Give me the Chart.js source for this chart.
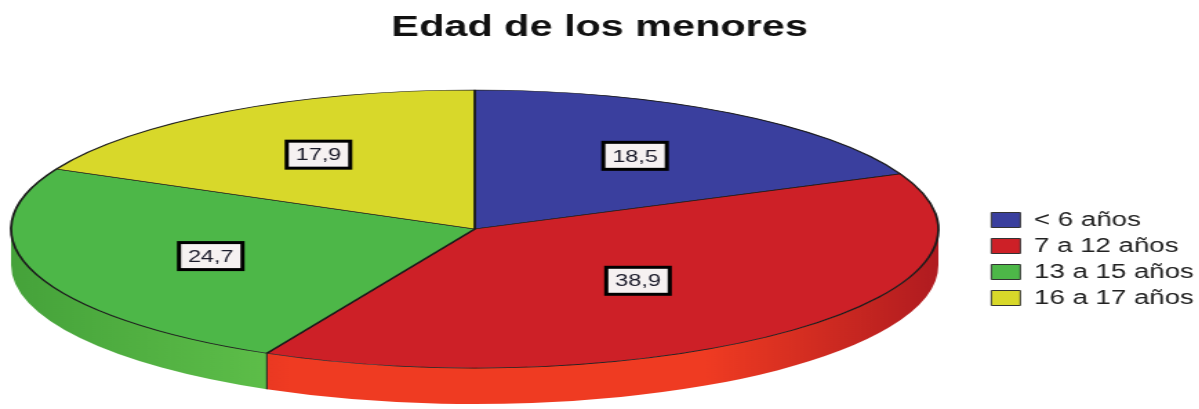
<!DOCTYPE html>
<html>
<head>
<meta charset="utf-8">
<title>Edad de los menores</title>
<script src="https://cdn.jsdelivr.net/npm/chart.js@4.4.1/dist/chart.umd.min.js"></script>
<style>
  html, body { margin: 0; padding: 0; background: #fff; overflow: hidden; }
  /* the source picture is stretched sideways, so is this one */
  #wrap { width: 869px; height: 409px; transform: scaleX(1.38); transform-origin: 0 0; }
</style>
</head>
<body>
<div id="wrap"><canvas id="chart" width="869" height="409"></canvas></div>
<script>
// Data
const categories = ['< 6 años', '7 a 12 años', '13 a 15 años', '16 a 17 años'];
const percentages = [18.5, 38.9, 24.7, 17.9];

// Styles
const topColors = ['#3a3f9e', '#cd2027', '#4db748', '#d8d82a'];
const sideColors = [
  ['#4a50b8', '#2e3280'],
  ['#ef3b22', '#b01b20'],
  ['#5fc04a', '#45a23a'],
  ['#e6e43a', '#b8b620']
];
const PIE = { cx: 344, cy: 229, rx: 336, ry: 139, depth: 36 };
const fmt = v => v.toFixed(1).replace('.', ',');

// draws the pie flattened into an ellipse with a side wall
const pie3d = {
  id: 'pie3d',
  beforeDatasetsDraw(chart) {
    const ctx = chart.ctx;
    const arcs = chart.getDatasetMeta(0).data;
    const ref = arcs[0];

    arcs.forEach((arc, i) => {
      const s = Math.max(arc.startAngle, 0);
      const e = Math.min(arc.endAngle, Math.PI);
      if (s >= e) return;
      const g = ctx.createLinearGradient(PIE.cx - PIE.rx, 0, PIE.cx + PIE.rx, 0);
      g.addColorStop(0, sideColors[i][1]);
      g.addColorStop(0.3, sideColors[i][0]);
      g.addColorStop(0.75, sideColors[i][0]);
      g.addColorStop(1, sideColors[i][1]);
      ctx.beginPath();
      ctx.ellipse(PIE.cx, PIE.cy, PIE.rx, PIE.ry, 0, s, e);
      ctx.ellipse(PIE.cx, PIE.cy + PIE.depth, PIE.rx, PIE.ry, 0, e, s, true);
      ctx.closePath();
      ctx.fillStyle = g;
      ctx.fill();
    });

    // edges between slices on the front wall
    ctx.save();
    ctx.strokeStyle = '#1a1a1a';
    ctx.lineWidth = 1;
    arcs.forEach(arc => {
      const a = arc.endAngle;
      if (a <= 0 || a >= Math.PI) return;
      const x = PIE.cx + PIE.rx * Math.cos(a);
      const y = PIE.cy + PIE.ry * Math.sin(a);
      ctx.beginPath();
      ctx.moveTo(x, y);
      ctx.lineTo(x, y + PIE.depth);
      ctx.stroke();
    });
    ctx.restore();

    ctx.save();
    ctx.translate(PIE.cx, PIE.cy);
    ctx.scale(PIE.rx / ref.outerRadius, PIE.ry / ref.outerRadius);
    ctx.translate(-ref.x, -ref.y);
  },
  afterDatasetsDraw(chart) {
    const ctx = chart.ctx;
    ctx.restore();

    const arcs = chart.getDatasetMeta(0).data;
    ctx.save();
    ctx.font = '17px "Liberation Sans", Arial, sans-serif';
    ctx.textAlign = 'center';
    ctx.textBaseline = 'middle';
    arcs.forEach((arc, i) => {
      // label sits on the centroid of the slice
      const half = (arc.endAngle - arc.startAngle) / 2;
      const mid = arc.startAngle + half;
      const f = 2 * Math.sin(half) / (3 * half);
      const x = PIE.cx + f * PIE.rx * Math.cos(mid);
      const y = PIE.cy + f * PIE.ry * Math.sin(mid);
      const w = 46, h = 27;
      ctx.fillStyle = '#f6f1f1';
      ctx.fillRect(x - w / 2, y - h / 2, w, h);
      ctx.lineWidth = 3;
      ctx.strokeStyle = '#000';
      ctx.strokeRect(x - w / 2, y - h / 2, w, h);
      ctx.fillStyle = '#1b1b2a';
      ctx.fillText(fmt(percentages[i]), x, y + 1);
    });
    ctx.restore();
  }
};

new Chart(document.getElementById('chart'), {
  type: 'pie',
  data: {
    labels: categories,
    datasets: [{
      data: percentages,
      backgroundColor: topColors,
      borderColor: '#1a1a1a',
      borderWidth: 0.8
    }]
  },
  options: {
    responsive: false,
    animation: false,
    events: [],
    layout: { padding: { left: -6, right: -6 } },
    plugins: {
      title: {
        display: true,
        text: 'Edad de los menores',
        color: '#111',
        font: { family: '"Liberation Sans", Arial, sans-serif', size: 30, weight: 'bold' },
        padding: { top: 10, bottom: 63 }
      },
      legend: {
        position: 'right',
        fullSize: false,
        labels: {
          color: '#222',
          boxWidth: 21,
          boxHeight: 15,
          padding: 6,
          font: { family: '"Liberation Sans", Arial, sans-serif', size: 20 },
          generateLabels(chart) {
            const items = Chart.overrides.pie.plugins.legend.labels.generateLabels(chart);
            items.forEach(it => { it.lineWidth = 1; it.strokeStyle = '#333'; });
            return items;
          }
        }
      },
      tooltip: { enabled: false }
    }
  },
  plugins: [pie3d]
});
</script>
</body>
</html>
